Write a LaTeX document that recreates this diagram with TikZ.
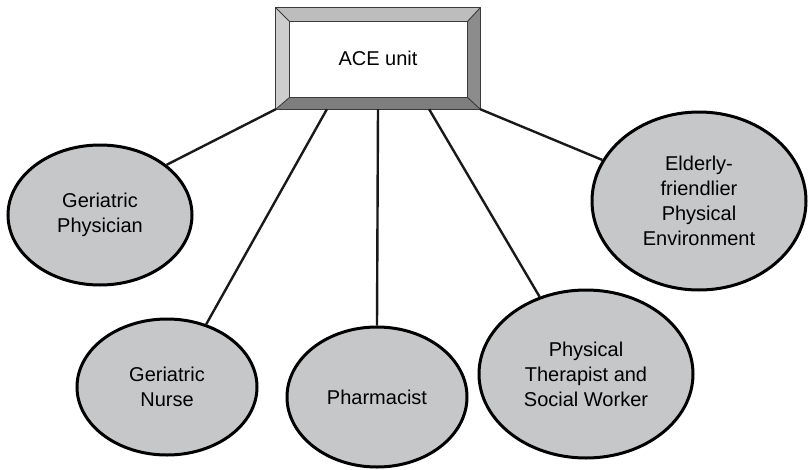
\documentclass[tikz,border=0pt]{standalone}
\usepackage{fontspec}
\setmainfont{Liberation Sans}
\usetikzlibrary{shapes.geometric,calc,backgrounds}
\definecolor{ellfill}{HTML}{C6C7C9}
\definecolor{bevtop}{HTML}{BDBDBD}
\definecolor{bevleft}{HTML}{CDCDCD}
\definecolor{bevright}{HTML}{8C8C8C}
\definecolor{bevbottom}{HTML}{7E7E7E}
\definecolor{bevline}{HTML}{3A3A3A}
\begin{document}
\begin{tikzpicture}[x=1pt,y=-1pt,
  labelfont/.style={font=\fontsize{20}{25}\selectfont},
  member/.style={ellipse, draw=black, line width=3pt, fill=ellfill, inner sep=0pt, align=center, labelfont},
  link/.style={draw=black!90, line width=2.4pt},
  frameline/.style={draw=bevline, line width=0.9pt, line join=miter}]
\useasboundingbox (0,0) rectangle (812,469);

\node[rectangle, minimum width=204pt, minimum height=101pt, inner sep=0pt, labelfont] (ace) at (378,58.5) {ACE unit};

\begin{scope}[on background layer]
  \coordinate (o1) at (ace.north west);
  \coordinate (o2) at (ace.north east);
  \coordinate (o3) at (ace.south east);
  \coordinate (o4) at (ace.south west);
  \coordinate (i1) at ($(ace.north west)+(14,14)$);
  \coordinate (i2) at ($(ace.north east)+(-13,14)$);
  \coordinate (i3) at ($(ace.south east)+(-13,-12)$);
  \coordinate (i4) at ($(ace.south west)+(14,-12)$);
  \fill[bevtop] (o1) -- (o2) -- (i2) -- (i1) -- cycle;
  \fill[bevright] (o2) -- (o3) -- (i3) -- (i2) -- cycle;
  \fill[bevbottom] (o3) -- (o4) -- (i4) -- (i3) -- cycle;
  \fill[bevleft] (o4) -- (o1) -- (i1) -- (i4) -- cycle;
  \fill[white] (i1) -- (i2) -- (i3) -- (i4) -- cycle;
  \draw[frameline] (o1) -- (o2) -- (o3) -- (o4) -- cycle;
  \draw[frameline] (i1) -- (i2) -- (i3) -- (i4) -- cycle;
  \draw[frameline] (o1) -- (i1) (o2) -- (i2) (o3) -- (i3) (o4) -- (i4);
\end{scope}

\node[member, minimum width=184pt, minimum height=140pt] (phys) at (100,215) {Geriatric\\Physician};
\node[member, minimum width=180pt, minimum height=136pt] (nurse) at (167,387) {Geriatric\\Nurse};
\node[member, minimum width=180pt, minimum height=140pt] (pharm) at (377,397) {Pharmacist};
\node[member, minimum width=214pt, minimum height=168pt] (pt) at (586,374) {Physical\\Therapist and\\Social Worker};
\node[member, minimum width=214pt, minimum height=178pt] (env) at (699,201) {Elderly-\\friendlier\\Physical\\Environment};

\draw[link] (ace.south west) -- (phys.37);
\draw[link] ($(ace.south west)!0.25!(ace.south east)$) -- (nurse.58);
\draw[link] (ace.south) -- (pharm.north);
\draw[link] ($(ace.south west)!0.75!(ace.south east)$) -- (pt.121);
\draw[link] (ace.south east) -- (env.157);
\end{tikzpicture}
\end{document}
